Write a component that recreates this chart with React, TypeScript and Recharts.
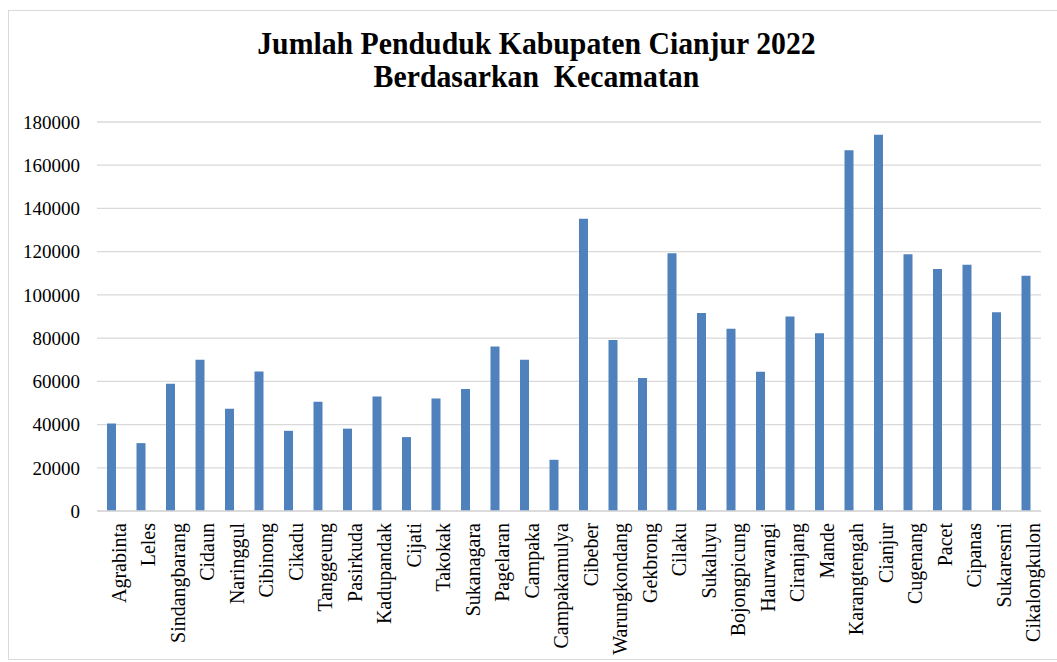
import React from "react";
import { BarChart, Bar, XAxis, YAxis, CartesianGrid } from "recharts";

const kecamatan: string[] = [
  "Agrabinta", "Leles", "Sindangbarang", "Cidaun", "Naringgul", "Cibinong", "Cikadu", "Tanggeung",
  "Pasirkuda", "Kadupandak", "Cijati", "Takokak", "Sukanagara", "Pagelaran", "Campaka", "Campakamulya",
  "Cibeber", "Warungkondang", "Gekbrong", "Cilaku", "Sukaluyu", "Bojongpicung", "Haurwangi", "Ciranjang",
  "Mande", "Karangtengah", "Cianjur", "Cugenang", "Pacet", "Cipanas", "Sukaresmi", "Cikalongkulon",
];

const penduduk: number[] = [
  40500, 31400, 58900, 70000, 47300, 64500, 37100, 50500,
  38100, 53000, 34200, 52100, 56400, 76100, 70000, 23700,
  135200, 79100, 61600, 119300, 91600, 84300, 64400, 90000,
  82300, 166900, 174100, 118800, 112000, 114000, 92000, 108800,
];

const yTicks: number[] = [0, 20000, 40000, 60000, 80000, 100000, 120000, 140000, 160000, 180000];

const titleLine1 = "Jumlah Penduduk Kabupaten Cianjur 2022";
const titleLine2 = "Berdasarkan\u00a0 Kecamatan";

const data = kecamatan.map((name, i) => ({ name, value: penduduk[i] }));

const FONT = '"Liberation Serif", "Times New Roman", serif';

export default function App() {
  return (
    <div
      style={{
        position: "absolute",
        left: 0,
        top: 0,
        width: 1057,
        height: 662,
        overflow: "hidden",
        background: "#ffffff",
        fontFamily: FONT,
      }}
    >
      <div
        style={{
          position: "absolute",
          left: 8,
          top: 10,
          width: 1049,
          height: 650,
          borderTop: "1px solid #D9D9D9",
          borderLeft: "1px solid #D9D9D9",
          borderBottom: "1px solid #D9D9D9",
          boxSizing: "border-box",
        }}
      />
      <div
        style={{
          position: "absolute",
          left: 0,
          width: 1073,
          top: 27,
          textAlign: "center",
          fontFamily: FONT,
          fontWeight: "bold",
          fontSize: 32,
          lineHeight: "33px",
          color: "#000",
          whiteSpace: "nowrap",
          transform: "scaleX(0.93)",
          transformOrigin: "536px 0",
        }}
      >
        <div>{titleLine1}</div>
        <div>{titleLine2}</div>
      </div>
      <div style={{ position: "absolute", left: 0, top: 0 }}>
        <BarChart
          width={1057}
          height={662}
          data={data}
          margin={{ top: 122, right: 16, bottom: 0, left: 0 }}
        >
          <CartesianGrid vertical={false} stroke="#D9D9D9" strokeWidth={1.3} />
          <XAxis
            dataKey="name"
            interval={0}
            height={151}
            tickLine={false}
            tickSize={0}
            tickMargin={12}
            axisLine={{ stroke: "#D9D9D9", strokeWidth: 1.3 }}
            tick={{
              angle: -90,
              textAnchor: "end",
              verticalAnchor: "middle",
              fontSize: 20,
              fill: "#000",
              fontFamily: FONT,
            }}
          />
          <YAxis
            width={97}
            domain={[0, 180000]}
            ticks={yTicks}
            interval={0}
            axisLine={false}
            tickLine={false}
            tickSize={0}
            tickMargin={17}
            tick={{ fontSize: 19, fill: "#000", fontFamily: FONT }}
          />
          <Bar dataKey="value" fill="#4F81BD" barSize={9} isAnimationActive={false} />
        </BarChart>
      </div>
    </div>
  );
}
